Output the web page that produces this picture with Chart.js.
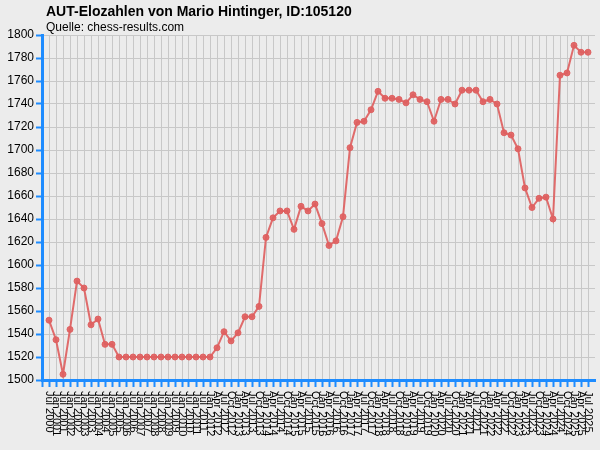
<!DOCTYPE html>
<html>
<head>
<meta charset="utf-8">
<script src="https://cdn.jsdelivr.net/npm/chart.js@4"></script>
<style>
  html, body { margin: 0; padding: 0; background: #ececec; }
  canvas { display: block; }
</style>
</head>
<body>
<canvas id="elo-diagramm" width="600" height="450" style="width:600px;height:450px"></canvas>
<script>
var titel = "AUT-Elozahlen von Mario Hintinger, ID:105120";
var quelle = "Quelle: chess-results.com";

var monate = [
    "Jul 2000", "Jan 2001", "Jul 2001", "Jan 2002", "Jul 2002", "Jan 2003",
    "Jul 2003", "Jan 2004", "Jul 2004", "Jan 2005", "Jul 2005", "Jan 2006",
    "Jul 2006", "Jan 2007", "Jul 2007", "Jan 2008", "Jul 2008", "Jan 2009",
    "Jul 2009", "Jan 2010", "Jul 2010", "Jan 2011", "Jul 2011", "Jan 2012",
    "Apr 2012", "Jul 2012", "Oct 2012",
    "Jan 2013", "Apr 2013", "Jul 2013", "Oct 2013",
    "Jan 2014", "Apr 2014", "Jul 2014", "Oct 2014",
    "Jan 2015", "Apr 2015", "Jul 2015", "Oct 2015",
    "Jan 2016", "Apr 2016", "Jul 2016", "Oct 2016",
    "Jan 2017", "Apr 2017", "Jul 2017", "Oct 2017",
    "Jan 2018", "Apr 2018", "Jul 2018", "Oct 2018",
    "Jan 2019", "Apr 2019", "Jul 2019", "Oct 2019",
    "Jan 2020", "Apr 2020", "Jul 2020", "Oct 2020",
    "Jan 2021", "Apr 2021", "Jul 2021", "Oct 2021",
    "Jan 2022", "Apr 2022", "Jul 2022", "Oct 2022",
    "Jan 2023", "Apr 2023", "Jul 2023", "Oct 2023",
    "Jan 2024", "Apr 2024", "Jul 2024", "Oct 2024",
    "Jan 2025", "Apr 2025", "Jul 2025"
];

var elo = [
    1552, 1535, 1505, 1544, 1586, 1580, 1548, 1553, 1531, 1531,
    1520, 1520, 1520, 1520, 1520, 1520, 1520, 1520, 1520, 1520, 1520, 1520, 1520, 1520,
    1528, 1542, 1534, 1541, 1555, 1555, 1564, 1624, 1641, 1647,
    1647, 1631, 1651, 1647, 1653, 1636, 1617, 1621, 1642,
    1702, 1724, 1725, 1735, 1751, 1745, 1745, 1744, 1741, 1748,
    1744, 1742, 1725, 1744, 1744, 1740, 1752, 1752, 1752, 1742,
    1744, 1740, 1715, 1713, 1701, 1667, 1650, 1658, 1659, 1640,
    1765, 1767, 1791, 1785, 1785
];

var yMin = 1500, yMax = 1800, yStep = 20;

var blau = "#1e8cff";
var gitter = "#c8c8c8";
var linie = "rgba(222,96,96,0.92)";

// leere Kategorie vorne und hinten, damit die Punkte vom Rand wegruecken
var kategorien = [""].concat(monate, [""]);
var werte = [null].concat(elo, [null]);
var letzter = kategorien.length - 1;

var beschriftung = {
    id: "beschriftung",
    beforeDraw: function(chart) {
        var c = chart.ctx;
        c.save();
        c.fillStyle = "#ececec";
        c.fillRect(0, 0, chart.width, chart.height);
        c.restore();
    },
    afterDraw: function(chart) {
        var c = chart.ctx;
        var xs = chart.scales.x;
        c.save();
        c.fillStyle = "#000";
        c.textAlign = "left";
        c.textBaseline = "alphabetic";
        c.font = "bold 14px 'Liberation Sans', Arial, sans-serif";
        c.fillText(titel, 46, 16);
        c.font = "12px 'Liberation Sans', Arial, sans-serif";
        c.fillText(quelle, 46, 31);

        c.font = "11px 'Liberation Sans', Arial, sans-serif";
        c.textBaseline = "middle";
        monate.forEach(function(m, i) {
            var px = xs.getPixelForValue(i + 1);
            c.save();
            c.translate(px, 391);
            c.rotate(Math.PI / 2);
            c.fillText(m, 0, 0);
            c.restore();
        });
        c.restore();
    }
};

var ctx = document.getElementById("elo-diagramm").getContext("2d");
var chart = new Chart(ctx, {
    type: "line",
    data: {
        labels: kategorien,
        datasets: [{
            data: werte,
            borderColor: linie,
            backgroundColor: linie,
            borderWidth: 2,
            pointRadius: 3,
            pointBorderWidth: 1,
            pointBorderColor: linie,
            pointBackgroundColor: linie,
            tension: 0
        }]
    },
    options: {
        responsive: false,
        animation: false,
        layout: {
            padding: { top: 35, right: 5, left: 0, bottom: 0 }
        },
        plugins: {
            legend: { display: false },
            tooltip: { enabled: false },
            title: { display: false }
        },
        scales: {
            x: {
                offset: false,
                grid: {
                    color: function(c) {
                        return (c.index === 0 || c.index === letzter) ? "rgba(0,0,0,0)" : gitter;
                    },
                    tickColor: function(c) {
                        return c.index === letzter ? "rgba(0,0,0,0)" : blau;
                    },
                    lineWidth: 1,
                    tickLength: 7,
                    tickWidth: 2
                },
                border: { color: blau, width: 3 },
                ticks: { display: false, autoSkip: false },
                afterFit: function(s) { s.height = 70; }
            },
            y: {
                min: yMin,
                max: yMax,
                ticks: {
                    stepSize: yStep,
                    color: "#000",
                    padding: 2,
                    font: { size: 12, family: "'Liberation Sans', Arial, sans-serif" },
                    callback: function(v) { return String(v); }
                },
                grid: {
                    color: gitter,
                    lineWidth: 1,
                    tickColor: blau,
                    tickLength: 6,
                    tickWidth: 2
                },
                border: { color: blau, width: 3 },
                afterFit: function(s) { s.width = 42; }
            }
        }
    },
    plugins: [beschriftung]
});
</script>
</body>
</html>
